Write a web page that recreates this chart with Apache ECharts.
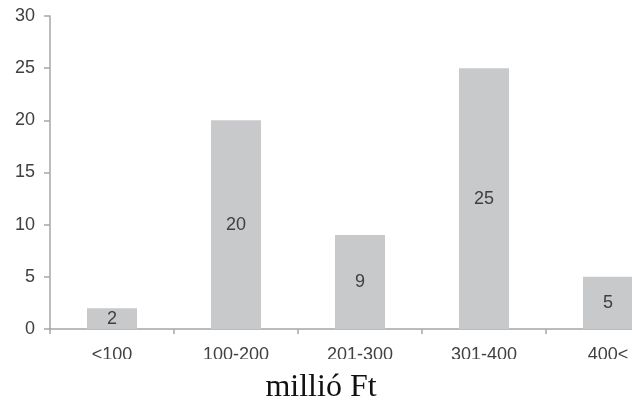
<!DOCTYPE html>
<html>
<head>
<meta charset="utf-8">
<script src="https://cdn.jsdelivr.net/npm/echarts@6/dist/echarts.min.js"></script>
<style>html,body{margin:0;padding:0;background:#fff}#c{width:632px;height:404px}</style>
</head>
<body>
<div id="c"></div>
<script>
var categories = ['<100', '100-200', '201-300', '301-400', '400<'];
var counts = [2, 20, 9, 25, 5];
var yTicks = { min: 0, max: 30, interval: 5 };
var axisTitle = 'millió Ft';

var chart = echarts.init(document.getElementById('c'), null, { renderer: 'canvas' });
chart.setOption({
  animation: false,
  backgroundColor: '#ffffff',
  grid: { left: 50, top: 16, bottom: 75, width: 620, containLabel: false, outerBoundsMode: 'none' },
  xAxis: {
    type: 'category',
    data: categories,
    axisLine: { lineStyle: { color: '#a6a6a6', width: 1.5 } },
    axisTick: { show: true, length: 5, lineStyle: { color: '#a6a6a6', width: 1.5 } },
    axisLabel: { color: '#404040', fontFamily: 'Liberation Sans', fontSize: 18, margin: 17 }
  },
  yAxis: {
    type: 'value',
    min: yTicks.min, max: yTicks.max, interval: yTicks.interval,
    axisLine: { show: true, lineStyle: { color: '#a6a6a6', width: 1.5 } },
    axisTick: { show: true, length: 6, lineStyle: { color: '#a6a6a6', width: 1.5 } },
    splitLine: { show: false },
    axisLabel: { color: '#404040', fontFamily: 'Liberation Sans', fontSize: 18, margin: 15 }
  },
  series: [{
    type: 'bar',
    data: counts,
    barWidth: 50,
    itemStyle: { color: '#c8c9cb' },
    label: { show: true, position: 'inside', color: '#404040', fontFamily: 'Liberation Sans', fontSize: 18 }
  }],
  graphic: [
    { type: 'rect', left: 0, top: 359, shape: { width: 632, height: 9 }, style: { fill: '#ffffff' }, z: 100 },
    { type: 'text', x: 321, y: 372, z: 101,
      style: { text: axisTitle, fill: '#111111', font: '32px "Liberation Serif"', align: 'center', verticalAlign: 'top' } }
  ]
});
</script>
</body>
</html>
